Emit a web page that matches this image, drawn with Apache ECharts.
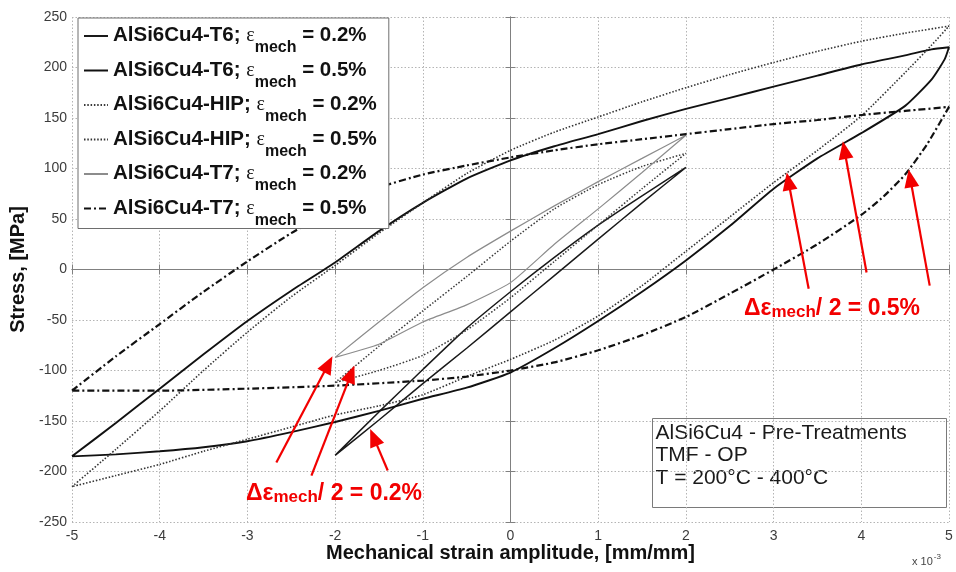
<!DOCTYPE html>
<html>
<head>
<meta charset="utf-8">
<script src="https://cdn.jsdelivr.net/npm/echarts@6/dist/echarts.min.js"></script>
<style>
  html, body { margin: 0; padding: 0; background: #fff; }
  #chart { width: 956px; height: 572px; }
</style>
</head>
<body>
<div id="chart"></div>
<script>
// Stress-strain hysteresis loops, [strain (x 10^-3), stress (MPa)]
// each loop: loading branch (left to right) followed by unloading branch (right to left)

const t6_02 = [
  [-2, -184], [-1.5, -141], [-1, -99], [-0.5, -58], [0, -22], [0.5, 12], [1, 44], [1.5, 73], [2, 101],
  [1.5, 66], [1, 30], [0.5, -6], [0, -42], [-0.5, -78], [-1, -113], [-1.5, -149], [-2, -184]
];
const t6_05 = [
  [-5, -185], [-4.5, -152], [-4, -118], [-3.5, -84], [-3, -51], [-2.5, -21], [-2, 7], [-1.5, 38],
  [-1, 66], [-0.5, 90], [0, 108], [0.5, 122], [1, 134], [1.5, 147], [2, 159], [2.5, 170], [3, 181],
  [3.5, 192], [4, 203], [4.5, 212], [4.8, 218], [5, 220],
  [4.95, 208], [4.8, 188], [4.5, 162], [4, 135], [3.5, 110], [3, 80], [2.5, 43], [2, 9], [1.5, -22],
  [1, -51], [0.5, -78], [0, -102], [-0.5, -117], [-1, -128], [-1.5, -140], [-2, -151], [-2.5, -161],
  [-3, -170], [-3.5, -176], [-4, -180], [-4.5, -183], [-5, -185]
];
const hip_02 = [
  [-2, -112], [-1.5, -76], [-1, -41], [-0.5, -7], [0, 28], [0.5, 60], [1, 84], [1.5, 102], [2, 115],
  [1.5, 80], [1, 44], [0.5, 8], [0, -28], [-0.5, -60], [-1, -85], [-1.5, -100], [-2, -112]
];
const hip_05 = [
  [-5, -215], [-4.5, -178], [-4, -140], [-3.5, -100], [-3, -62], [-2.5, -27], [-2, 4], [-1.5, 36],
  [-1, 66], [-0.5, 95], [0, 118], [0.5, 136], [1, 151], [1.5, 166], [2, 180], [2.5, 193], [3, 205],
  [3.5, 216], [4, 226], [4.5, 234], [5, 241],
  [4.8, 222], [4.5, 195], [4, 152], [3.5, 118], [3, 86], [2.5, 52], [2, 18], [1.5, -16], [1, -46],
  [0.5, -70], [0, -89], [-0.5, -106], [-1, -124], [-1.5, -135], [-2, -144], [-2.5, -156], [-3, -168],
  [-3.5, -180], [-4, -193], [-4.5, -204], [-5, -215]
];
const t7_02 = [
  [-2, -87], [-1.5, -52], [-1, -18], [-0.5, 12], [0, 38], [0.5, 63], [1, 87], [1.5, 110], [2, 133],
  [1.5, 96], [1, 60], [0.5, 25], [0, -13], [-0.5, -35], [-1, -52], [-1.5, -74], [-2, -87]
];
const t7_05 = [
  [-5, -120], [-4.5, -86], [-4, -54], [-3.5, -22], [-3, 8], [-2.5, 36], [-2, 60], [-1.5, 81],
  [-1, 94], [-0.5, 103], [0, 111], [0.5, 118], [1, 124], [1.5, 129], [2, 134], [2.5, 139], [3, 144],
  [3.5, 148], [4, 153], [4.5, 157], [5, 161],
  [4.75, 124], [4.5, 94], [4.25, 72], [4, 54], [3.5, 25], [3, 0], [2.5, -24], [2, -47], [1.5, -65],
  [1, -80], [0.5, -92], [0, -100], [-0.5, -106], [-1, -110], [-2, -115], [-3, -118], [-4, -120],
  [-5, -120]
];

// legend entries: alloy / treatment and strain amplitude
const alloys = ['AlSi6Cu4-T6', 'AlSi6Cu4-T6', 'AlSi6Cu4-HIP', 'AlSi6Cu4-HIP', 'AlSi6Cu4-T7', 'AlSi6Cu4-T7'];
const amplitudes = ['0.2%', '0.5%', '0.2%', '0.5%', '0.2%', '0.5%'];

// annotation arrows: [tailX, tailY, tipX, tipY]
const arrows02 = [[-2.67, -191], [-2.03, -86], [-2.27, -204], [-1.78, -95], [-1.40, -199], [-1.60, -158]];
const arrows05 = [[3.40, -19], [3.15, 96], [4.06, -3], [3.79, 127], [4.78, -16], [4.54, 99]];

const xTicks = [-5, -4, -3, -2, -1, 0, 1, 2, 3, 4, 5];
const yTicks = [-250, -200, -150, -100, -50, 0, 50, 100, 150, 200, 250];

const FONT = '"Liberation Sans", Arial, sans-serif';
const SERIF = '"Liberation Serif", "DejaVu Serif", serif';

const loops = [t6_02, t6_05, hip_02, hip_05, t7_02, t7_05];
const styles = [
  { color: '#1a1a1a', width: 1.5, type: 'solid' },
  { color: '#111111', width: 1.9, type: 'solid' },
  { color: '#3a3a3a', width: 1.5, type: [1.5, 1.8] },
  { color: '#333333', width: 1.6, type: [1.5, 1.8] },
  { color: '#8c8c8c', width: 1.2, type: 'solid' },
  { color: '#111111', width: 2.2, type: [7, 3, 2, 3] }
];
const names = alloys.map((a, i) => a + '; \u03b5mech = ' + amplitudes[i]);

const lineSeries = loops.map((d, i) => ({
  name: names[i],
  type: 'line',
  data: d,
  showSymbol: false,
  symbol: 'none',
  smooth: 0.18,
  z: 3,
  lineStyle: { color: styles[i].color, width: styles[i].width, type: styles[i].type },
  itemStyle: { color: styles[i].color },
  emphasis: { disabled: true }
}));

function arrowPairs(list) {
  const out = [];
  for (let i = 0; i < list.length; i += 2) out.push([list[i][0], list[i][1], list[i + 1][0], list[i + 1][1]]);
  return out;
}

function renderArrow(params, api) {
  const a = api.coord([api.value(0), api.value(1)]);
  const b = api.coord([api.value(2), api.value(3)]);
  const dx = b[0] - a[0], dy = b[1] - a[1];
  const len = Math.hypot(dx, dy), ux = dx / len, uy = dy / len;
  const hl = 18, hw = 7.5;
  const bx = b[0] - ux * hl, by = b[1] - uy * hl;
  return {
    type: 'group',
    children: [
      { type: 'line', shape: { x1: a[0], y1: a[1], x2: bx + ux * 2, y2: by + uy * 2 },
        style: { stroke: '#f20000', lineWidth: 2.2 } },
      { type: 'polygon', shape: { points: [[b[0], b[1]], [bx - uy * hw, by + ux * hw], [bx + uy * hw, by - ux * hw]] },
        style: { fill: '#f20000' } }
    ]
  };
}

const arrowSeries = {
  type: 'custom',
  renderItem: renderArrow,
  data: arrowPairs(arrows02).concat(arrowPairs(arrows05)),
  encode: { x: [0, 2], y: [1, 3] },
  clip: false,
  silent: true,
  z: 6
};

const chart = echarts.init(document.getElementById('chart'), null, { renderer: 'canvas' });

const gridLine = { show: true, lineStyle: { color: '#b4b4b4', width: 1, type: [1.5, 2] } };
const boxLine = { show: true, lineStyle: { color: '#808080', width: 1 } };
const redRich = {
  b: { fontFamily: FONT, fontSize: 23, fontWeight: 'bold', fill: '#f20000', lineHeight: 26, verticalAlign: 'top' },
  s: { fontFamily: FONT, fontSize: 17, fontWeight: 'bold', fill: '#f20000', lineHeight: 26, verticalAlign: 'top', padding: [7, 0, 0, 0] }
};

chart.setOption({
  animation: false,
  backgroundColor: '#ffffff',
  grid: { left: 72, right: 7, top: 17, bottom: 50, containLabel: false },
  xAxis: [
    {
      type: 'value', min: xTicks[0], max: xTicks[xTicks.length - 1], interval: 1,
      axisLine: boxLine,
      axisTick: { show: true, inside: true, length: 5, lineStyle: { color: '#808080' } },
      splitLine: gridLine,
      axisLabel: { color: '#3c3c3c', fontFamily: FONT, fontSize: 14, margin: 7 },
      name: 'Mechanical strain amplitude, [mm/mm]',
      nameLocation: 'middle', nameGap: 21, nameMoveOverlap: false,
      nameTextStyle: { color: '#111', fontFamily: FONT, fontSize: 20, fontWeight: 'bold' }
    },
    {
      type: 'value', position: 'top', min: xTicks[0], max: xTicks[xTicks.length - 1], interval: 1,
      axisLine: boxLine,
      axisTick: { show: true, inside: true, length: 5, lineStyle: { color: '#808080' } },
      splitLine: { show: false }, axisLabel: { show: false }
    }
  ],
  yAxis: [
    {
      type: 'value', min: yTicks[0], max: yTicks[yTicks.length - 1], interval: 50,
      axisLine: boxLine,
      axisTick: { show: true, inside: true, length: 5, lineStyle: { color: '#808080' } },
      splitLine: gridLine,
      axisLabel: { color: '#3c3c3c', fontFamily: FONT, fontSize: 14, margin: 5 },
      name: 'Stress, [MPa]',
      nameLocation: 'middle', nameGap: 36, nameRotate: 90,
      nameTextStyle: { color: '#111', fontFamily: FONT, fontSize: 20, fontWeight: 'bold' }
    },
    {
      type: 'value', position: 'right', min: yTicks[0], max: yTicks[yTicks.length - 1], interval: 50,
      axisLine: boxLine,
      axisTick: { show: true, inside: true, length: 5, lineStyle: { color: '#808080' } },
      splitLine: { show: false }, axisLabel: { show: false }
    }
  ],
  legend: {
    data: names,
    orient: 'vertical',
    left: 78, top: 18,
    padding: [7, 12, 0, 5],
    itemGap: 3.5,
    itemWidth: 24,
    itemHeight: 14,
    selectedMode: false,
    backgroundColor: '#ffffff',
    borderColor: '#6e6e6e',
    borderWidth: 1,
    itemStyle: { opacity: 0 },
    formatter: function (name) {
      const i = names.indexOf(name);
      return '{a|' + alloys[i] + '; }{e|\u03b5}{s|mech}{a| = ' + amplitudes[i] + '}';
    },
    textStyle: {
      rich: {
        a: { fontFamily: FONT, fontSize: 20.5, fontWeight: 'bold', color: '#111', lineHeight: 22, verticalAlign: 'top' },
        e: { fontFamily: SERIF, fontSize: 20, color: '#111', lineHeight: 22, verticalAlign: 'top', padding: [1, 0, 0, 0] },
        s: { fontFamily: FONT, fontSize: 16, fontWeight: 'bold', color: '#111', lineHeight: 16, verticalAlign: 'top', padding: [15, 0, 0, 0] }
      }
    }
  },
  graphic: [
    {
      type: 'group', left: 652, top: 418, z: 10,
      children: [
        { type: 'rect', shape: { x: 0, y: 0, width: 294, height: 89 }, style: { fill: '#fff', stroke: '#7a7a7a', lineWidth: 1 } },
        { type: 'text', x: 3, y: 14.5, style: { text: 'AlSi6Cu4 - Pre-Treatments', font: '21px ' + FONT, fill: '#1a1a1a', verticalAlign: 'middle' } },
        { type: 'text', x: 3, y: 37, style: { text: 'TMF - OP', font: '21px ' + FONT, fill: '#1a1a1a', verticalAlign: 'middle' } },
        { type: 'text', x: 3, y: 60, style: { text: 'T = 200\u00b0C - 400\u00b0C', font: '21px ' + FONT, fill: '#1a1a1a', verticalAlign: 'middle' } }
      ]
    },
    {
      type: 'text', left: 246, top: 482, z: 10,
      style: { text: '{b|\u0394\u03b5}{s|mech}{b|/ 2 = 0.2%}', rich: redRich }
    },
    {
      type: 'text', left: 744, top: 297, z: 10,
      style: { text: '{b|\u0394\u03b5}{s|mech}{b|/ 2 = 0.5%}', rich: redRich }
    },
    {
      type: 'text', left: 912, top: 553, z: 10,
      style: {
        text: '{n|x 10}{p|-3}',
        rich: {
          n: { fontFamily: FONT, fontSize: 11, fill: '#444', lineHeight: 14, verticalAlign: 'bottom' },
          p: { fontFamily: FONT, fontSize: 8, fill: '#444', lineHeight: 14, verticalAlign: 'bottom', padding: [0, 0, 6, 1] }
        }
      }
    }
  ],
  series: lineSeries.concat([arrowSeries])
});
</script>
</body>
</html>
